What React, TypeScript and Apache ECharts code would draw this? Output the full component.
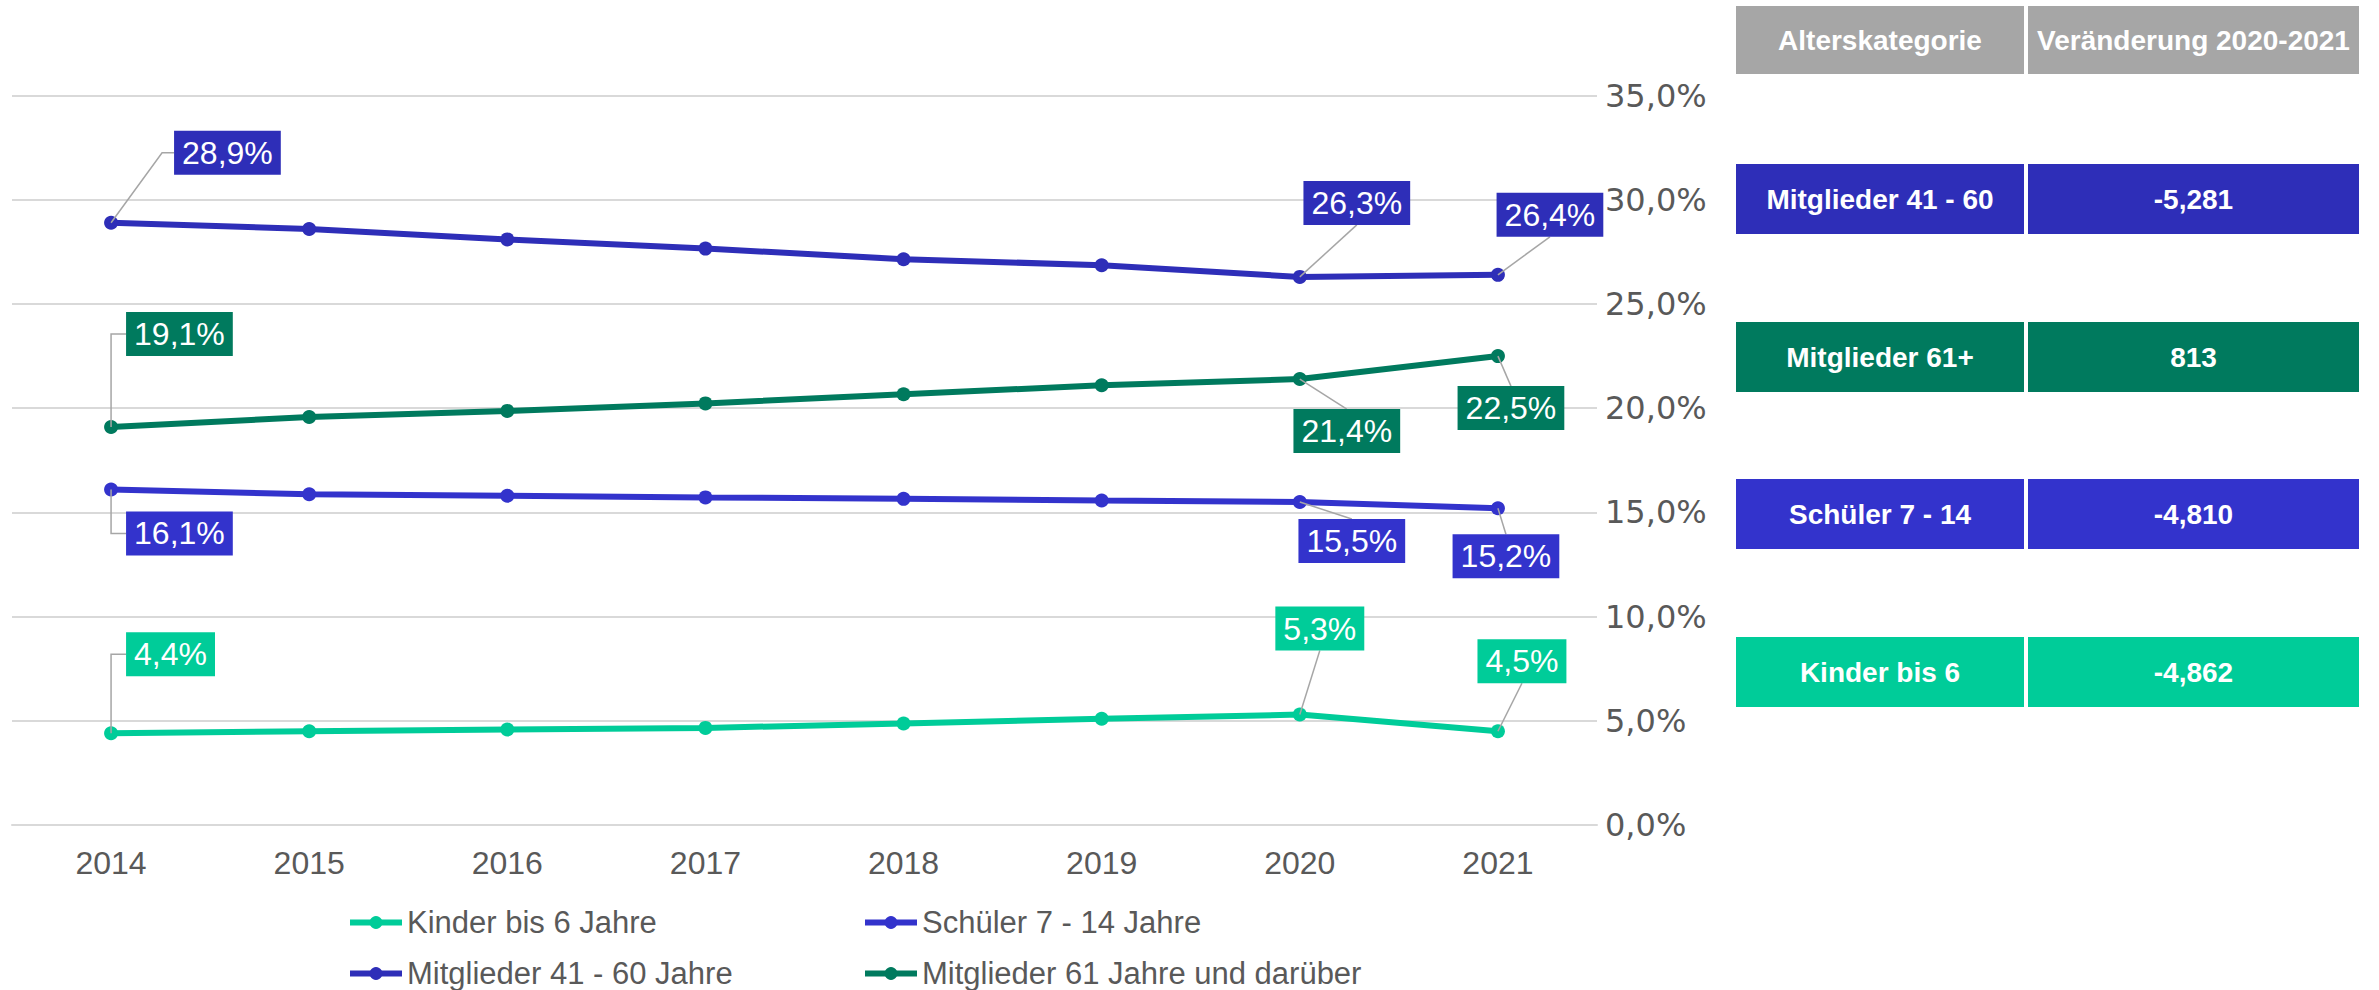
import React, { useEffect, useRef } from "react";
import * as echarts from "echarts";

// ---------- data ----------
const years = ["2014", "2015", "2016", "2017", "2018", "2019", "2020", "2021"];
const seriesNames = [
  "Kinder bis 6 Jahre",
  "Schüler 7 - 14 Jahre",
  "Mitglieder 41 - 60 Jahre",
  "Mitglieder 61 Jahre und darüber",
];
const kinder = [4.4, 4.5, 4.58, 4.66, 4.87, 5.1, 5.3, 4.5];
const schueler = [16.1, 15.87, 15.8, 15.72, 15.65, 15.57, 15.5, 15.2];
const mitglieder4160 = [28.9, 28.6, 28.1, 27.66, 27.15, 26.86, 26.3, 26.4];
const mitglieder61 = [19.1, 19.58, 19.87, 20.23, 20.67, 21.1, 21.4, 22.5];
const labelledIndices = [0, 6, 7];

const yMin = 0;
const yMax = 35;
const yStep = 5;

const tableHeader = ["Alterskategorie", "Veränderung 2020-2021"];
const tableCategories = ["Mitglieder 41 - 60", "Mitglieder 61+", "Schüler 7 - 14", "Kinder bis 6"];
const tableChanges = ["-5,281", "813", "-4,810", "-4,862"];

// ---------- styles ----------
const colors = ["#00CC99", "#3333CC", "#2E2EB8", "#007A5E"];
const tableRowColors = ["#2E2EB8", "#007A5E", "#3333CC", "#00CC99"];
const seriesValues = [kinder, schueler, mitglieder4160, mitglieder61];

// label placement relative to the data point:
// kind "elbow": vertical then horizontal to the label's left-middle (dx, dy)
// kind "stub":  diagonal then short horizontal to the label's left-middle (dx, dy)
// kind "top":   straight to the label's top-centre (dx, dy)
// kind "bottom": straight to the label's bottom-centre (dx, dy)
type Place = { kind: "elbow" | "stub" | "top" | "bottom"; dx: number; dy: number };
const labelPlacement: Record<number, Record<number, Place>> = {
  0: {
    0: { kind: "elbow", dx: 15, dy: -79 },
    6: { kind: "bottom", dx: 20, dy: -64 },
    7: { kind: "bottom", dx: 24, dy: -48 },
  },
  1: {
    0: { kind: "elbow", dx: 15, dy: 44 },
    6: { kind: "top", dx: 52, dy: 17 },
    7: { kind: "top", dx: 8, dy: 26 },
  },
  2: {
    0: { kind: "stub", dx: 63, dy: -70 },
    6: { kind: "bottom", dx: 57, dy: -52 },
    7: { kind: "bottom", dx: 52, dy: -38 },
  },
  3: {
    0: { kind: "elbow", dx: 15, dy: -93 },
    6: { kind: "top", dx: 47, dy: 30 },
    7: { kind: "top", dx: 13, dy: 30 },
  },
};

const fmt = (v: number) => v.toFixed(1).replace(".", ",") + "%";

const tableCol1 = { x: 1736, w: 288 };
const tableCol2 = { x: 2028, w: 331 };
const headerBox = { y: 6, h: 68 };
const rowBoxes = [
  { y: 164, h: 70 },
  { y: 322, h: 70 },
  { y: 479, h: 70 },
  { y: 637, h: 70 },
];

function buildTable(): any[] {
  const els: any[] = [];
  const cell = (x: number, y: number, w: number, h: number, fill: string, text: string) => {
    els.push({
      type: "rect",
      shape: { x, y, width: w, height: h },
      style: { fill },
      silent: true,
    });
    els.push({
      type: "text",
      x: x + w / 2,
      y: y + h / 2,
      style: {
        text,
        fill: "#FFFFFF",
        fontSize: 28,
        fontWeight: "bold",
        fontFamily: "Liberation Sans, Arial, sans-serif",
        align: "center",
        verticalAlign: "middle",
      },
      silent: true,
    });
  };
  cell(tableCol1.x, headerBox.y, tableCol1.w, headerBox.h, "#A6A6A6", tableHeader[0]);
  cell(tableCol2.x, headerBox.y, tableCol2.w, headerBox.h, "#A6A6A6", tableHeader[1]);
  tableCategories.forEach((c, i) => {
    const r = rowBoxes[i];
    cell(tableCol1.x, r.y, tableCol1.w, r.h, tableRowColors[i], c);
    cell(tableCol2.x, r.y, tableCol2.w, r.h, tableRowColors[i], tableChanges[i]);
  });
  return els;
}

export default function App() {
  const ref = useRef<HTMLDivElement>(null);

  useEffect(() => {
    if (!ref.current) return;
    const chart = echarts.init(ref.current, undefined, { renderer: "svg" });

    const lineSeries = seriesNames.map((name, si) => ({
      name,
      type: "line",
      data: seriesValues[si],
      symbol: "circle",
      symbolSize: 14,
      showSymbol: true,
      lineStyle: { width: 6, color: colors[si] },
      itemStyle: { color: colors[si] },
      z: 3 + si,
    }));

    // label rows: [yearIndex, value, seriesIndex]
    const labelRows: number[][] = [];
    seriesValues.forEach((vals, si) => {
      labelledIndices.forEach((di) => labelRows.push([di, vals[di], si]));
    });

    const labelSeries = {
      name: "labels",
      type: "custom",
      coordinateSystem: "cartesian2d",
      silent: true,
      z: 20,
      clip: false,
      encode: { x: 0, y: 1 },
      data: labelRows,
      renderItem: (params: any, api: any) => {
        const di = api.value(0);
        const v = api.value(1);
        const si = api.value(2);
        const p = api.coord([di, v]);
        const pl = labelPlacement[si][di];
        const ax = p[0] + pl.dx;
        const ay = p[1] + pl.dy;
        let points: number[][];
        let align = "left";
        let vAlign = "middle";
        if (pl.kind === "elbow") {
          points = [p, [p[0], ay], [ax, ay]];
        } else if (pl.kind === "stub") {
          points = [p, [ax - 12, ay], [ax, ay]];
        } else if (pl.kind === "top") {
          points = [p, [ax, ay]];
          align = "center";
          vAlign = "top";
        } else {
          points = [p, [ax, ay]];
          align = "center";
          vAlign = "bottom";
        }
        return {
          type: "group",
          children: [
            {
              type: "polyline",
              shape: { points },
              style: { stroke: "#A6A6A6", lineWidth: 1.5, fill: null },
            },
            {
              type: "text",
              x: ax,
              y: ay,
              style: {
                text: fmt(v),
                fill: "#FFFFFF",
                fontSize: 32,
                fontFamily: "Liberation Sans, Arial, sans-serif",
                backgroundColor: colors[si],
                padding: [6, 8, 6, 8],
                align,
                verticalAlign: vAlign,
              },
            },
          ],
        };
      },
    };

    const legendCommon = {
      orient: "vertical",
      itemWidth: 52,
      itemHeight: 16,
      itemGap: 20,
      padding: 0,
      height: 120,
      lineStyle: { width: 6 },
      textStyle: {
        color: "#595959",
        fontSize: 31,
        lineHeight: 30,
        fontFamily: "Liberation Sans, Arial, sans-serif",
      },
    };

    chart.setOption({
      animation: false,
      backgroundColor: "#FFFFFF",
      color: colors,
      grid: {
        left: 12,
        right: 2379 - 1597,
        top: 95.6,
        bottom: 990 - 825,
        containLabel: false,
      },
      legend: [
        {
          ...legendCommon,
          left: 347,
          top: 907,
          data: [seriesNames[0], seriesNames[2]],
        },
        {
          ...legendCommon,
          left: 862,
          top: 907,
          data: [seriesNames[1], seriesNames[3]],
        },
      ],
      xAxis: {
        type: "category",
        data: years,
        boundaryGap: true,
        axisLine: { show: true, lineStyle: { color: "#D9D9D9", width: 2 } },
        axisTick: { show: false },
        axisLabel: {
          color: "#595959",
          fontSize: 32,
          fontFamily: "Liberation Sans, Arial, sans-serif",
          margin: 22,
        },
      },
      yAxis: {
        type: "value",
        position: "right",
        min: yMin,
        max: yMax,
        interval: yStep,
        axisLine: { show: false },
        axisTick: { show: false },
        splitLine: { lineStyle: { color: "#D9D9D9", width: 2 } },
        axisLabel: {
          color: "#595959",
          fontSize: 32,
          fontFamily: "DejaVu Sans, sans-serif",
          margin: 8,
          formatter: (val: number) => val.toFixed(1).replace(".", ",") + "%",
        },
      },
      series: [...lineSeries, labelSeries],
      graphic: buildTable(),
    });

    return () => chart.dispose();
  }, []);

  return (
    <div
      ref={ref}
      style={{ position: "absolute", left: 0, top: 0, width: 2379, height: 990 }}
    />
  );
}
